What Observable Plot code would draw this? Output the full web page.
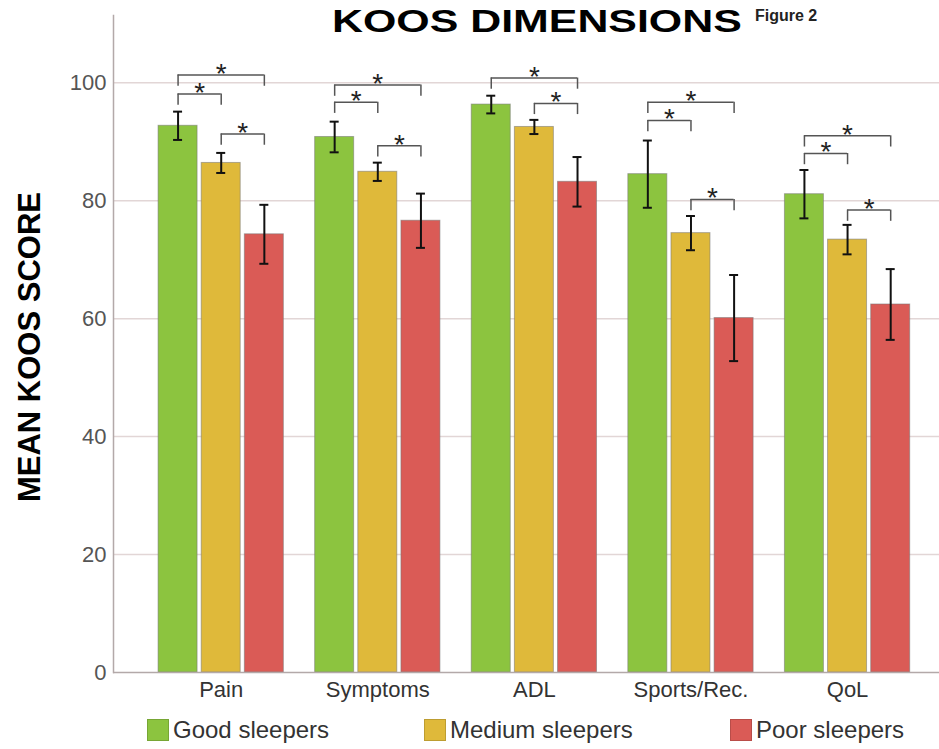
<!DOCTYPE html>
<html>
<head>
<meta charset="utf-8">
<script src="https://cdn.jsdelivr.net/npm/d3@7"></script>
<script src="https://cdn.jsdelivr.net/npm/@observablehq/plot@0.6"></script>
<style>
  html, body { margin: 0; padding: 0; background: #fff; }
  body { font-family: "Liberation Sans", Arial, sans-serif; }
  #wrap { position: relative; width: 939px; height: 749px; overflow: hidden; }
  #chart { position: absolute; left: 0; top: 0; }
  #title { position: absolute; left: 332px; top: 3px; font-weight: bold; font-size: 32px; color: #000;
           transform: scaleX(1.34); transform-origin: left top; white-space: nowrap; }
  #fig { position: absolute; left: 755px; top: 7px; font-weight: bold; font-size: 16px; color: #222; white-space: nowrap; }
  #legend { position: absolute; top: 716px; left: 0; width: 939px; height: 33px; }
  .item { position: absolute; top: 0; display: flex; align-items: center; font-size: 24px; color: #333; white-space: nowrap; }
  .sw { width: 22px; height: 22px; margin-right: 4px; box-sizing: border-box; border: 1px solid rgba(0,0,0,0.15); }
</style>
</head>
<body>
<div id="wrap">
  <div id="chart"></div>
  <div id="title">KOOS DIMENSIONS</div>
  <div id="fig">Figure 2</div>
  <div id="legend"></div>
</div>
<script>
// ---- data ----
const groups = ["Pain", "Symptoms", "ADL", "Sports/Rec.", "QoL"];
const seriesNames = ["Good sleepers", "Medium sleepers", "Poor sleepers"];
const seriesColors = ["#8cc43f", "#dfb93a", "#da5b56"];
const good = [92.7, 90.8, 96.3, 84.5, 81.1];
const goodErr = [2.4, 2.6, 1.5, 5.7, 4.1];
const medium = [86.4, 84.9, 92.5, 74.5, 73.4];
const mediumErr = [1.7, 1.55, 1.2, 2.9, 2.5];
const poor = [74.3, 76.6, 83.2, 60.1, 62.4];
const poorErr = [5.0, 4.6, 4.2, 7.3, 6.0];
const yTicks = [0, 20, 40, 60, 80, 100];
const gridTicks = [20, 40, 60, 80, 100];

// significance brackets: group, from-series index, to-series index, level
const bracketGroup = ["Pain", "Pain", "Pain", "Symptoms", "Symptoms", "Symptoms", "ADL", "ADL",
                      "Sports/Rec.", "Sports/Rec.", "Sports/Rec.", "QoL", "QoL", "QoL"];
const bracketFrom = [0, 0, 1, 0, 0, 1, 0, 1, 0, 0, 1, 0, 0, 1];
const bracketTo   = [2, 1, 2, 2, 1, 2, 2, 2, 2, 1, 2, 2, 1, 2];
const bracketLevel = [101.3, 98.1, 91.3, 99.6, 96.7, 89.3, 100.8, 96.5, 96.7, 93.6, 80.2, 91.0, 88.0, 78.4];

// ---- build tables ----
const values = [good, medium, poor];
const errs = [goodErr, mediumErr, poorErr];
const rows = [];
seriesNames.forEach((s, si) => groups.forEach((g, gi) => rows.push({group: g, si, value: values[si][gi], err: errs[si][gi]})));
const brackets = bracketGroup.map((g, i) => ({group: g, a: bracketFrom[i], b: bracketTo[i], level: bracketLevel[i]}));

// ---- layout constants ----
const W = 939, H = 712, ML = 113, MR = 0, MT = 15, MB = 40;
const PI = 0.2, PO = 0.2375, ALIGN = 0.606;
const step = (W - ML - MR) / (groups.length - PI + 2 * PO);
const BW = step * (1 - PI);
const barW = 39;
const gap = (BW - 3 * barW) / 2;
const off = [-(barW + gap), 0, barW + gap];
const cap = 4.5;
const tickLen = 1.9;

const marks = [];
marks.push(Plot.ruleY(gridTicks, {stroke: "#e2d6d6", strokeWidth: 1.5}));
seriesNames.forEach((s, si) => {
  const d = rows.filter(r => r.si === si);
  marks.push(Plot.barY(d, {x: "group", y: "value", fill: seriesColors[si], stroke: "#777", strokeOpacity: 0.55, strokeWidth: 1,
    insetLeft: BW / 2 + off[si] - barW / 2, insetRight: BW / 2 - off[si] - barW / 2}));
});
seriesNames.forEach((s, si) => {
  const d = rows.filter(r => r.si === si);
  marks.push(Plot.ruleX(d, {x: "group", y1: r => r.value - r.err, y2: r => r.value + r.err, dx: off[si], stroke: "#111", strokeWidth: 2}));
  marks.push(Plot.tickY(d, {x: "group", y: r => r.value + r.err, stroke: "#111", strokeWidth: 2,
    insetLeft: BW / 2 + off[si] - cap, insetRight: BW / 2 - off[si] - cap}));
  marks.push(Plot.tickY(d, {x: "group", y: r => r.value - r.err, stroke: "#111", strokeWidth: 2,
    insetLeft: BW / 2 + off[si] - cap, insetRight: BW / 2 - off[si] - cap}));
});
// brackets
[[0, 2], [0, 1], [1, 2]].forEach(([a, b]) => {
  const d = brackets.filter(k => k.a === a && k.b === b);
  marks.push(Plot.tickY(d, {x: "group", y: "level", stroke: "#555", strokeWidth: 1.5,
    insetLeft: BW / 2 + off[a], insetRight: BW / 2 - off[b]}));
  marks.push(Plot.text(d, {x: "group", y: "level", text: () => "*", dx: (off[a] + off[b]) / 2, dy: -1,
    fontSize: 28, fill: "#222"}));
});
seriesNames.forEach((s, si) => {
  const ends = brackets.filter(k => k.a === si || k.b === si);
  marks.push(Plot.ruleX(ends, {x: "group", y1: k => k.level - tickLen, y2: "level", dx: off[si], stroke: "#555", strokeWidth: 1.5}));
});
marks.push(Plot.ruleY([0], {stroke: "#b3a9a9", strokeWidth: 1.5}));
marks.push(Plot.frame({anchor: "left", stroke: "#b3a9a9", strokeWidth: 1.5}));
marks.push(Plot.axisY({ticks: yTicks, tickSize: 0, tickPadding: 7, fontSize: 22, color: "#555", label: null}));
marks.push(Plot.axisX({tickSize: 0, tickPadding: 9, fontSize: 22, color: "#333", label: null}));
marks.push(Plot.text(["MEAN KOOS SCORE"], {text: d => d, frameAnchor: "left", textAnchor: "middle", rotate: -90, dx: -83, dy: 3,
  fontSize: 31, fontWeight: "bold", fill: "#000"}));

const chart = Plot.plot({
  width: W, height: H,
  marginLeft: ML, marginRight: MR, marginTop: MT, marginBottom: MB,
  style: {fontFamily: '"Liberation Sans", Arial, sans-serif', background: "#fff"},
  x: {domain: groups, paddingInner: PI, paddingOuter: PO, align: ALIGN, round: false, axis: null},
  y: {domain: [0, 111.4], axis: null},
  marks
});
document.getElementById("chart").appendChild(chart);

// legend
const lg = document.getElementById("legend");
const lefts = [147, 424, 730];
seriesNames.forEach((s, i) => {
  const it = document.createElement("div");
  it.className = "item";
  it.style.left = lefts[i] + "px";
  const sw = document.createElement("div");
  sw.className = "sw";
  sw.style.background = seriesColors[i];
  const t = document.createElement("span");
  t.textContent = s;
  it.appendChild(sw); it.appendChild(t);
  lg.appendChild(it);
});
</script>
</body>
</html>
